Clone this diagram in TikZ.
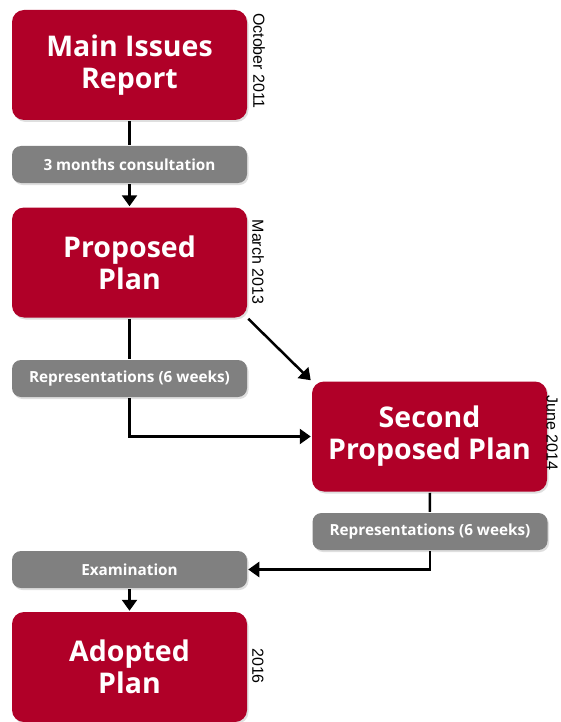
\documentclass[tikz,border=0pt]{standalone}
\usepackage{fontspec}
\setmainfont{Open Sans}
\newfontfamily\datefont{Liberation Sans}
\usepackage{tikz}
\usetikzlibrary{arrows.meta,shadows}

\definecolor{planred}{RGB}{176,0,40}
\definecolor{stepgray}{RGB}{128,128,128}

\begin{document}
\begin{tikzpicture}[x=1pt,y=-1pt,->,>={Triangle[width=15pt,length=11pt]},
                    line width=2.5pt]
  \tikzstyle{stage}=[draw=none,fill=planred,text=white,rounded corners=12pt,
        minimum width=235pt,minimum height=110pt,align=center,
        font=\fontsize{28.5}{32}\selectfont\bfseries,
        drop shadow={opacity=0.25,shadow xshift=1.5pt,shadow yshift=-2pt}]
  \tikzstyle{period}=[draw=none,fill=stepgray,text=white,rounded corners=9pt,
        minimum width=235pt,minimum height=37pt,
        font=\fontsize{15.3}{17}\selectfont\bfseries,
        drop shadow={opacity=0.25,shadow xshift=1.5pt,shadow yshift=-2pt}]
  \tikzstyle{when}=[rotate=-90,inner sep=0pt,font=\fontsize{16}{18}\selectfont\datefont]

  \useasboundingbox (0,0) rectangle (561,722);

  \node[stage]  (MIR) at (129.5,65)    {Main Issues\\Report};
  \node[period] (C3)  at (129.5,164.5) {3 months consultation};
  \node[stage]  (PP)  at (129.5,262.5) {Proposed\\Plan};
  \node[period] (R1)  at (129.5,378.5) {Representations (6 weeks)};
  \node[stage]  (SPP) at (429.5,436.5) {Second\\Proposed Plan};
  \node[period] (R2)  at (430,531.5)   {Representations (6 weeks)};
  \node[period] (EX)  at (129.5,569.5) {Examination};
  \node[stage]  (AP)  at (129.5,667)   {Adopted\\Plan};

  \node[when] (d1) at (259,61)  {October 2011};
  \node[when] (d2) at (258,262) {March 2013};
  \node[when] (d3) at (552,433) {June 2014};
  \node[when] (d4) at (258,666) {2016};

  \path (MIR) edge [-]  (C3)
        (C3)  edge      (PP)
        (PP)  edge [-]  (R1)
        (PP.south east) edge (SPP.north west)
        (SPP) edge [-]  (R2)
        (EX)  edge      (AP);
  \draw (R1.south) |- (SPP.west);
  \draw (R2.south) |- (EX.east);
\end{tikzpicture}
\end{document}
